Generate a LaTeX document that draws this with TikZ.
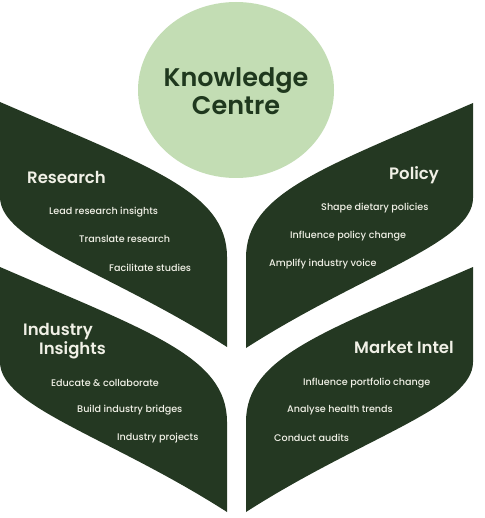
\documentclass[tikz,border=0pt]{standalone}
\usepackage{fontspec}
\setmainfont{Poppins}[BoldFont={Poppins SemiBold}]
\newfontfamily\itemfont{Poppins Medium}
\usepackage{xcolor}
\usepackage{tikz}

\definecolor{leafgreen}{HTML}{243822}
\definecolor{sproutgreen}{HTML}{C3DDB4}
\definecolor{centretext}{HTML}{1F381E}
\definecolor{leaftext}{HTML}{F0F0E6}

% one leaf, corners at (0,0) and (227,245)
\newcommand{\leafshape}{(0,0) .. controls (150,65) and (227,90) .. (227,155) -- (227,245)
  .. controls (110,170) and (0,140) .. (0,95) -- cycle}

\begin{document}
\begin{tikzpicture}[x=1pt, y=-1pt,
    leaf/.style={fill=leafgreen},
    title/.style={anchor=west, text=leaftext, font=\fontsize{16.5}{19.5}\selectfont\bfseries, inner sep=0pt},
    item/.style={anchor=west, text=leaftext, font=\fontsize{9.6}{11}\selectfont\itemfont, inner sep=0pt}]
		\useasboundingbox (0,0) rectangle (484,518);
		% centre
		\fill[sproutgreen] (236,90) ellipse (98 and 88);
		\node[text=centretext, font=\fontsize{25.5}{28}\selectfont\bfseries, align=center] (kc) at (236,91) {Knowledge\\Centre};
		% leaves
		\fill[leaf, shift={(0,102)}] \leafshape;
		\fill[leaf, shift={(473,103)}, xscale=-1] \leafshape;
		\fill[leaf, shift={(0,267)}] \leafshape;
		\fill[leaf, shift={(473,267)}, xscale=-1] \leafshape;
		% research
		\node[title] (research) at (27,177) {Research};
		\node[item] (res1) at (49,212) {Lead research insights};
		\node[item] (res2) at (79,239) {Translate research};
		\node[item] (res3) at (109,268) {Facilitate studies};
		% policy
		\node[title] (policy) at (389,175) {Policy};
		\node[item] (pol1) at (321,208) {Shape dietary policies};
		\node[item] (pol2) at (290,236) {Influence policy change};
		\node[item] (pol3) at (269,264) {Amplify industry voice};
		% industry insights
		\node[title, align=left] (industry) at (23,341) {Industry\\\hspace*{16pt}Insights};
		\node[item] (ind1) at (51,383) {Educate \& collaborate};
		\node[item] (ind2) at (77,410) {Build industry bridges};
		\node[item] (ind3) at (117,438) {Industry projects};
		% market intel
		\node[title] (market) at (354,347) {Market Intel};
		\node[item] (mkt1) at (303,383) {Influence portfolio change};
		\node[item] (mkt2) at (287,410) {Analyse health trends};
		\node[item] (mkt3) at (274,438) {Conduct audits};
\end{tikzpicture}
\end{document}
